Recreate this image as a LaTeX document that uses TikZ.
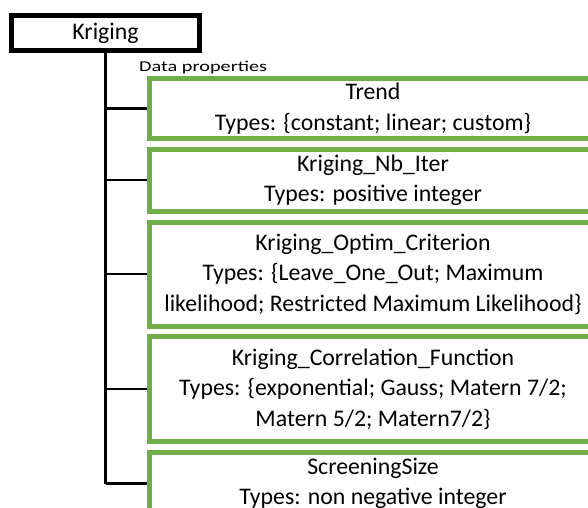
\documentclass[tikz,border=0pt]{standalone}
\usepackage{fontspec}
\setmainfont{Carlito}
\definecolor{PropGreen}{RGB}{112,173,71}
\usetikzlibrary{positioning}

\begin{document}
\begin{tikzpicture}[
        x=1pt, y=1pt,
        font=\fontsize{23.8}{30.5}\selectfont,
        classbox/.style={rectangle, draw=black, line width=5pt, fill=white,
                         minimum width=188pt, minimum height=35pt, inner sep=0pt},
        propbox/.style={rectangle, draw=PropGreen, line width=5pt, fill=white,
                        minimum width=447pt, inner sep=0pt, align=center},
        link/.style={draw, black, line width=2.2pt}
    ]
        \clip (0,0) rectangle (588,-507);
        \useasboundingbox (0,0) rectangle (588,-507);
        \node[classbox] (kriging) at (105.5,-33) {Kriging};
        \node[anchor=base west, inner sep=0pt, font=\fontsize{15}{18}\selectfont] (dataprop) at (139,-71)
            {\scalebox{1.35}[1]{Data properties}};
        \node[propbox, minimum height=60pt] (trend) at (373,-108.5)
            {Trend\\ Types: \{constant; linear; custom\}};
        \node[propbox, minimum height=62.5pt, below=5.5pt of trend] (nbiter)
            {Kriging\_Nb\_Iter\\ Types: positive integer};
        \node[propbox, minimum height=104pt, below=5.5pt of nbiter] (optim)
            {Kriging\_Optim\_Criterion\\ Types: \{Leave\_One\_Out; Maximum\\ likelihood; Restricted Maximum Likelihood\}};
        \node[propbox, minimum height=105pt, below=5.5pt of optim] (corr)
            {Kriging\_Correlation\_Function\\ Types: \{exponential; Gauss; Matern 7/2;\\ Matern 5/2; Matern7/2\}};
        \node[propbox, minimum height=63pt, below=5.5pt of corr] (screen)
            {ScreeningSize\\ Types: non negative integer};
        \path[link] (kriging.south) -- (kriging.south |- screen.west);
        \path[link] (kriging.south |- trend.west)  -- (trend.west);
        \path[link] (kriging.south |- nbiter.west) -- (nbiter.west);
        \path[link] (kriging.south |- optim.west)  -- (optim.west);
        \path[link] (kriging.south |- corr.west)   -- (corr.west);
        \path[link] (kriging.south |- screen.west) -- (screen.west);
    \end{tikzpicture}
\end{document}
